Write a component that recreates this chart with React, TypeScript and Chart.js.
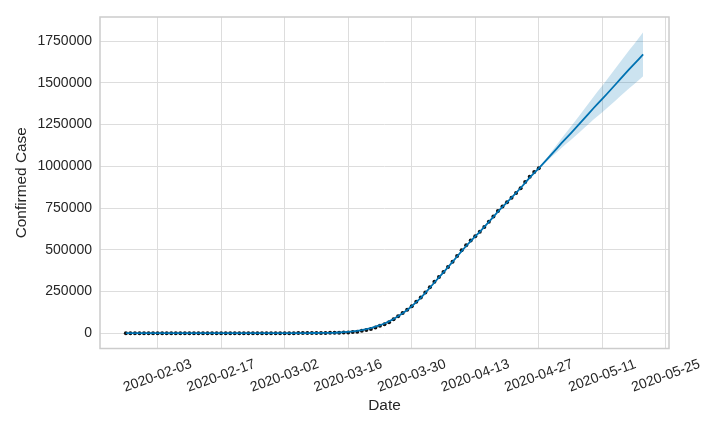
import React, { useEffect, useRef } from "react";
import { Chart, registerables } from "chart.js";

Chart.register(...registerables);

const FONT = "'Liberation Sans', Arial, Helvetica, sans-serif";
const TEXT_COLOR = "#262626";

// first date of the series (day index 0)
const START_DATE = "2020-01-27";

const X_TICK_LABELS = [
  "2020-02-03",
  "2020-02-17",
  "2020-03-02",
  "2020-03-16",
  "2020-03-30",
  "2020-04-13",
  "2020-04-27",
  "2020-05-11",
  "2020-05-25",
];

const Y_TICKS = [0, 250000, 500000, 750000, 1000000, 1250000, 1500000, 1750000];

// observed confirmed cases, 2020-01-27 .. 2020-04-27
const OBSERVED = [
  5, 5, 6, 6, 8,
  8, 8, 11, 11, 12, 12, 12, 12, 12, 12, 13, 13, 14, 15, 15, 15, 15, 15, 15, 15, 35, 35, 35, 53, 53, 59, 60, 62, 70,
  76, 101, 122, 153, 221, 278, 417, 537, 605, 959, 1281, 1663, 2179, 2726, 3499, 4632, 6421, 7786, 13680, 19101,
  25493, 33276, 43847, 53740, 65778, 83836, 101657, 121465, 140909, 161831, 188172,
  213242, 243622, 275367, 308650, 336802, 366317, 397121, 428654, 462780, 496535, 526396, 555313, 580619, 607670,
  636350, 667592, 699706, 732197, 759086, 784326, 811865, 840351, 869170, 905358, 938154, 965785, 988197,
];

// model fit + forecast (yhat), 2020-01-27 .. 2020-05-20
const YHAT = [
  420, 310, 180, 90, 150,
  330, 460, 410, 300, 170, 80, 140, 320, 450, 400, 290, 160, 70, 130, 310, 440, 390, 280, 150, 60, 120, 300, 430, 380, 270, 140, 50, 110, 290,
  420, 380, 300, 260, 340, 520, 700, 830, 960, 1150, 1450, 1850,
  2500, 3800, 5600, 7800, 10500, 14000, 18500, 24000, 30500, 38500, 47500, 58000, 70500, 85000, 101000, 119000, 139000, 161000, 185500,
  212000, 241000, 272000, 303500, 334000, 364500, 395500, 427000, 459500, 491500, 522500, 551500, 579500, 607500,
  636500, 666500, 697500, 728000, 756500, 784000, 812000, 840500, 870000, 901000, 932000, 960500, 987500,
  1017500, 1047500, 1077500, 1108000, 1138500, 1167500, 1196000, 1225500, 1255500, 1285500, 1316000, 1346500,
  1375500, 1404000, 1433500, 1463500, 1493500, 1524000, 1554500, 1583500, 1612000, 1641500, 1671500,
];

// uncertainty interval, 2020-04-27 .. 2020-05-20
const BAND_START = "2020-04-27";
const YHAT_UPPER = [
  994500, 1024500, 1059500, 1095000, 1131000, 1167000, 1201500, 1235500, 1270500, 1306500, 1342000, 1378000,
  1414500, 1449500, 1483500, 1518500, 1554500, 1590500, 1626500, 1663000, 1698000, 1732000, 1767500, 1803500,
];
const YHAT_LOWER = [
  980500, 1010500, 1035500, 1060000, 1085000, 1110000, 1133500, 1156500, 1180500, 1204500, 1229000, 1254000,
  1278500, 1301500, 1324500, 1348500, 1372500, 1396500, 1421500, 1446000, 1469000, 1492000, 1515500, 1539500,
];

const DAY_MS = 86400000;
const dayIndex = (d: string) => Math.round((Date.parse(d) - Date.parse(START_DATE)) / DAY_MS);

const framePlugin = {
  id: "frameAndXLabels",
  afterDraw(chart: any) {
    const { ctx, chartArea: a } = chart;
    const xs = chart.scales.x;
    ctx.save();
    ctx.strokeStyle = "#cccccc";
    ctx.lineWidth = 1.5;
    ctx.strokeRect(a.left, a.top, a.right - a.left, a.bottom - a.top);
    ctx.fillStyle = TEXT_COLOR;
    ctx.font = `14px ${FONT}`;
    ctx.textAlign = "center";
    ctx.textBaseline = "middle";
    for (const l of X_TICK_LABELS) {
      const px = xs.getPixelForValue(dayIndex(l));
      ctx.save();
      ctx.translate(px, a.bottom + 27.5);
      ctx.rotate((-20 * Math.PI) / 180);
      ctx.fillText(l, 0, 0);
      ctx.restore();
    }
    ctx.restore();
  },
};

export default function App() {
  const ref = useRef<HTMLCanvasElement | null>(null);

  useEffect(() => {
    if (!ref.current) return;
    const bandStart = dayIndex(BAND_START);
    const chart = new Chart(ref.current, {
      type: "line",
      data: {
        datasets: [
          {
            label: "yhat",
            data: YHAT.map((v, i) => ({ x: i, y: v })),
            borderColor: "#0072B2",
            borderWidth: 1.8,
            pointRadius: 0,
            tension: 0,
            fill: false,
          },
          {
            label: "observed",
            data: OBSERVED.map((v, i) => ({ x: i, y: v })),
            showLine: false,
            pointRadius: 2,
            pointBackgroundColor: "#111111",
            pointBorderWidth: 0,
            borderColor: "#111111",
            fill: false,
          },
          {
            label: "upper",
            data: YHAT_UPPER.map((v, i) => ({ x: bandStart + i, y: v })),
            borderWidth: 0,
            borderColor: "rgba(0,0,0,0)",
            pointRadius: 0,
            backgroundColor: "rgba(0,114,178,0.2)",
            fill: "+1",
            tension: 0,
          },
          {
            label: "lower",
            data: YHAT_LOWER.map((v, i) => ({ x: bandStart + i, y: v })),
            borderWidth: 0,
            borderColor: "rgba(0,0,0,0)",
            pointRadius: 0,
            fill: false,
            tension: 0,
          },
        ],
      },
      options: {
        animation: false,
        responsive: false,
        devicePixelRatio: 1,
        events: [],
        layout: { padding: { top: 17, right: 51, left: 0, bottom: 0 } },
        plugins: {
          legend: { display: false },
          tooltip: { enabled: false },
        },
        scales: {
          x: {
            type: "linear",
            min: -5.7,
            max: 119.7,
            afterBuildTicks: (s: any) => {
              s.ticks = X_TICK_LABELS.map((l) => ({ value: dayIndex(l) }));
            },
            afterFit: (s: any) => {
              s.height = 83.5;
            },
            ticks: { display: false },
            grid: { color: "#dddddd", lineWidth: 1, drawTicks: false },
            border: { display: false },
            title: {
              display: true,
              text: "Date",
              color: TEXT_COLOR,
              font: { family: FONT, size: 15.4 },
              padding: { top: 0, bottom: 16.8 },
            },
          },
          y: {
            type: "linear",
            min: -92000,
            max: 1895000,
            afterBuildTicks: (s: any) => {
              s.ticks = Y_TICKS.map((v) => ({ value: v }));
            },
            afterFit: (s: any) => {
              s.width = 100;
            },
            ticks: {
              color: TEXT_COLOR,
              font: { family: FONT, size: 14 },
              padding: 8,
              callback: (v: any) => String(v),
            },
            grid: { color: "#dddddd", lineWidth: 1, drawTicks: false },
            border: { display: false },
            title: {
              display: true,
              text: "Confirmed Case",
              color: TEXT_COLOR,
              font: { family: FONT, size: 15.4 },
              padding: { top: 12.8, bottom: 0 },
            },
          },
        },
      },
      plugins: [framePlugin],
    });
    return () => chart.destroy();
  }, []);

  return (
    <div style={{ position: "fixed", left: 0, top: 0, width: 720, height: 432, background: "#ffffff" }}>
      <canvas ref={ref} width={720} height={432} style={{ width: 720, height: 432, display: "block" }} />
    </div>
  );
}
